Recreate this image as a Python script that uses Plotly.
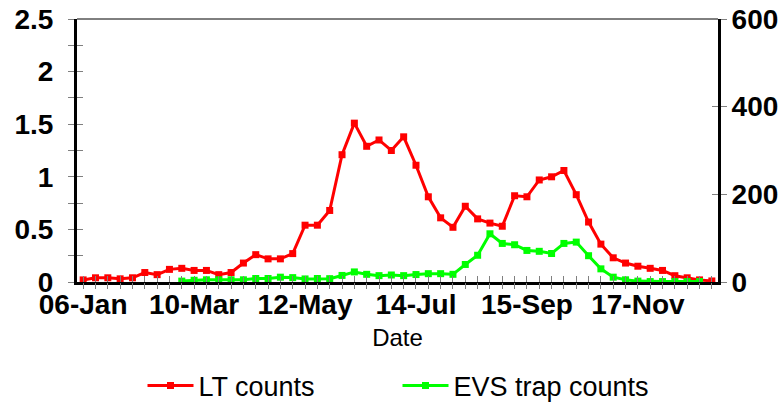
import plotly.graph_objects as go
import pandas as pd

# weekly sampling dates (one per week, Sundays)
weeks = pd.date_range("2002-01-06", periods=52, freq="7D")
tick_labels = ["06-Jan", "10-Mar", "12-May", "14-Jul", "15-Sep", "17-Nov"]

lt_counts = [0.02, 0.04, 0.04, 0.03, 0.04, 0.09, 0.07, 0.12, 0.13, 0.11,
             0.11, 0.07, 0.09, 0.18, 0.26, 0.22, 0.22, 0.27, 0.54, 0.54,
             0.68, 1.21, 1.51, 1.29, 1.35, 1.25, 1.38, 1.11, 0.81, 0.61,
             0.52, 0.72, 0.60, 0.56, 0.53, 0.82, 0.81, 0.97, 1.00, 1.06,
             0.83, 0.57, 0.36, 0.23, 0.18, 0.15, 0.13, 0.11, 0.06, 0.04,
             0.02, 0.01]

evs_counts = [None, None, None, None, None, None, None, None, 2, 4,
              5, 5, 5, 5, 8, 8, 11, 10, 7, 8,
              7.6, 15, 23, 17.5, 14.5, 16, 14.5, 17, 19, 19,
              17.5, 40, 61, 110, 88, 85, 72, 70, 65, 88,
              91, 60, 30, 11, 5, 2, 1, 1, 1, 1,
              1, None]

tickdates = weeks[::9]
week_ms = 7 * 24 * 3600 * 1000
xrange = [weeks[0] - pd.Timedelta(hours=84), weeks[-1] + pd.Timedelta(hours=84)]

bold = dict(family="Liberation Sans", size=28, color="black", weight="bold")
grey = "#808080"

fig = go.Figure()
fig.add_trace(go.Scatter(x=weeks, y=lt_counts, name="LT counts", mode="lines+markers",
                         line=dict(color="#ff0000", width=3),
                         marker=dict(symbol="square", size=7, color="#ff0000")))
fig.add_trace(go.Scatter(x=weeks, y=evs_counts, name="EVS trap counts", mode="lines+markers",
                         yaxis="y2", line=dict(color="#00ff00", width=3),
                         marker=dict(symbol="square", size=7, color="#00ff00")))
# empty traces so the overlay axes (other half of the crossing ticks) get drawn
fig.add_trace(go.Scatter(x=[], y=[], xaxis="x2", yaxis="y3", showlegend=False))
fig.add_trace(go.Scatter(x=[], y=[], yaxis="y4", showlegend=False))

fig.update_layout(
    width=784, height=403,
    margin=dict(l=77, r=66, t=19, b=121, autoexpand=False),
    plot_bgcolor="white", paper_bgcolor="white",
    font=dict(family="Liberation Sans", color="black"),
    xaxis=dict(type="date", range=xrange, tickvals=tickdates, ticktext=tick_labels,
               ticks="inside", ticklen=6, tickcolor=grey, tickwidth=1,
               minor=dict(dtick=week_ms, tick0=weeks[0], ticks="inside", ticklen=6,
                          tickcolor=grey, tickwidth=1),
               showline=True, linecolor="black", linewidth=3, showgrid=False, zeroline=False,
               tickfont=bold, ticklabelstandoff=-5, ticklabeloverflow="allow",
               automargin=False,
               title=dict(text="Date", font=dict(size=24), standoff=11)),
    xaxis2=dict(type="date", range=xrange, overlaying="x", anchor="y", side="bottom",
                tickvals=tickdates, ticks="outside", ticklen=6, tickcolor=grey,
                minor=dict(dtick=week_ms, tick0=weeks[0], ticks="outside", ticklen=6,
                           tickcolor=grey),
                showticklabels=False, showgrid=False, zeroline=False, showline=False,
                automargin=False),
    yaxis=dict(range=[0, 2.5], tickvals=[0, 0.5, 1, 1.5, 2, 2.5],
               ticktext=["0", "0.5", "1", "1.5", "2", "2.5"],
               ticks="outside", ticklen=6, tickcolor=grey,
               minor=dict(dtick=0.25, ticks="outside", ticklen=6, tickcolor=grey),
               showline=True, linecolor="black", linewidth=3, showgrid=False, zeroline=False,
               tickfont=bold, ticklabelstandoff=9, ticklabeloverflow="allow",
               automargin=False),
    yaxis2=dict(range=[0, 600], tickvals=[0, 200, 400, 600], overlaying="y", side="right",
                anchor="x", ticks="outside", ticklen=6, tickcolor=grey,
                showline=True, linecolor="black", linewidth=3, showgrid=False, zeroline=False,
                tickfont=bold, ticklabelstandoff=-1, ticklabeloverflow="allow",
                automargin=False),
    yaxis3=dict(range=[0, 2.5], overlaying="y", side="left", anchor="x2",
                tickvals=[0, 0.5, 1, 1.5, 2, 2.5], ticks="inside", ticklen=6, tickcolor=grey,
                minor=dict(dtick=0.25, ticks="inside", ticklen=6, tickcolor=grey),
                showticklabels=False, showgrid=False, zeroline=False, showline=False,
                automargin=False),
    yaxis4=dict(range=[0, 600], overlaying="y", side="right", anchor="x",
                tickvals=[0, 200, 400, 600], ticks="inside", ticklen=6, tickcolor=grey,
                showticklabels=False, showgrid=False, zeroline=False, showline=False,
                automargin=False),
    legend=dict(orientation="h", x=0.5, xanchor="center", y=-0.395, yanchor="middle",
                font=dict(size=27), entrywidth=194, itemwidth=46),
    shapes=[dict(type="line", xref="paper", yref="paper", x0=0, x1=1, y0=1, y1=1,
                 line=dict(color="black", width=1))],
)

# drop the default 8px body margin so the 784x403 figure fills the window exactly
fig.write_html("out.html", config={"displayModeBar": False},
               post_script="document.body.style.margin='0';")
